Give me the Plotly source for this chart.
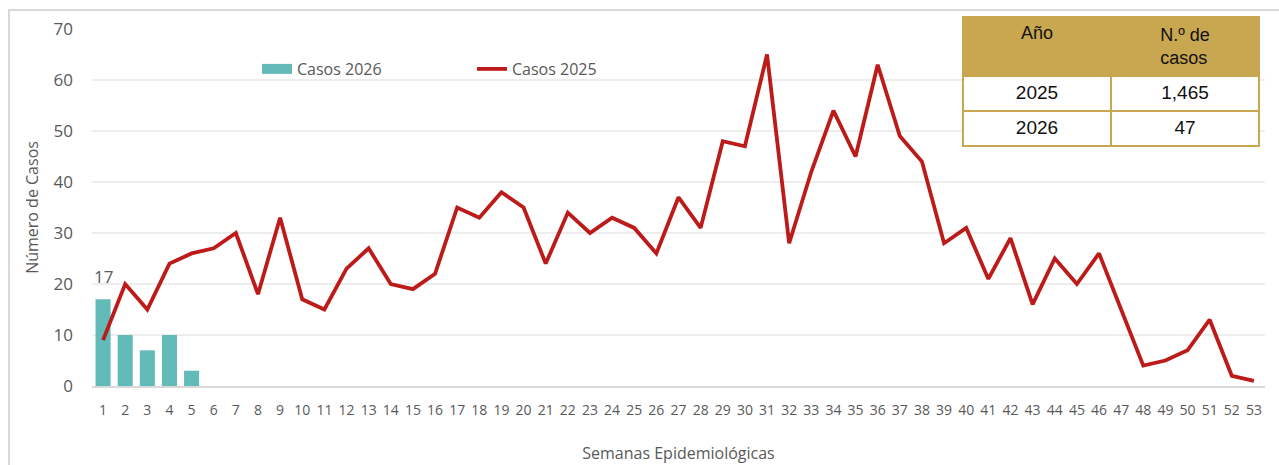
import plotly.graph_objects as go

weeks = list(range(1, 54))
casos_2025 = [9, 20, 15, 24, 26, 27, 30, 18, 33, 17, 15, 23, 27, 20, 19, 22, 35, 33, 38, 35,
              24, 34, 30, 33, 31, 26, 37, 31, 48, 47, 65, 28, 42, 54, 45, 63, 49, 44, 28, 31,
              21, 29, 16, 25, 20, 26, 15, 4, 5, 7, 13, 2, 1]
weeks_2026 = [1, 2, 3, 4, 5]
casos_2026 = [17, 10, 7, 10, 3]
tabla_anios = ["2025", "2026"]
tabla_casos = ["1,465", "47"]

W, H = 1279, 465
ml, mr, mt, mb = 92, 14, 10, 79
pw = W - ml - mr
ph = H - mt - mb
ytop = (H - mb - 29) / ph

TEAL = "#62BBB8"
RED = "#BD1A1A"
GREY = "#595959"
GOLD = "#C9A650"

fig = go.Figure()
fig.add_trace(go.Bar(
    x=weeks_2026, y=casos_2026, name="Casos 2026", showlegend=False,
    marker=dict(color=TEAL, line=dict(width=0)),
))
# legend entry for the bars (wide swatch like the original)
fig.add_trace(go.Scatter(
    x=[None], y=[None], name="Casos 2026", mode="lines",
    line=dict(color=TEAL, width=14),
))
fig.add_trace(go.Scatter(
    x=weeks, y=casos_2025, name="Casos 2025", mode="lines",
    line=dict(color=RED, width=3.8),
))
fig.add_trace(go.Table(
    domain=dict(x=[(963 - ml) / pw, (1259 - ml) / pw],
                y=[(H - mb - 160) / ph, (H - mb - 17) / ph]),
    columnwidth=[148, 148],
    header=dict(values=["Año", "N.º de<br>casos"],
                fill_color=GOLD, line=dict(color=GOLD, width=2),
                font=dict(family="Liberation Sans", size=18, color="#111111"),
                align="center", height=51),
    cells=dict(values=[tabla_anios, tabla_casos],
               fill_color="white", line=dict(color=GOLD, width=2),
               font=dict(family="Liberation Sans", size=19, color="#111111"),
               align="center", height=35),
))

fig.add_annotation(
    x=weeks_2026[0], y=casos_2026[0], text=str(casos_2026[0]),
    showarrow=False, yanchor="bottom", yshift=9,
    font=dict(family="Open Sans", size=17, color=GREY),
)

fig.update_layout(
    width=W, height=H,
    margin=dict(l=ml, r=mr, t=mt, b=mb, autoexpand=False),
    paper_bgcolor="white", plot_bgcolor="white",
    bargap=0.32,
    showlegend=True,
    legend=dict(orientation="h", x=(257 - ml) / pw, xanchor="left",
                y=(H - mb - 69) / ph, yanchor="middle",
                font=dict(family="Open Sans", size=16, color=GREY),
                entrywidth=170, bgcolor="rgba(0,0,0,0)", traceorder="normal"),
    xaxis=dict(range=[0.5, 53.5], tickmode="array", tickvals=weeks,
               ticktext=[str(w) for w in weeks], showgrid=False,
               showline=True, linecolor="#D9D9D9", linewidth=2, ticks="",
               automargin=False,
               tickfont=dict(family="Open Sans", size=14, color=GREY),
               ticklabelstandoff=10,
               title=dict(text="Semanas Epidemiológicas", standoff=30,
                          font=dict(family="Open Sans", size=16, color=GREY))),
    yaxis=dict(range=[0, 70], dtick=10, domain=[0, ytop], showgrid=True,
               gridcolor="#EDEDED", gridwidth=1.5, zeroline=False, ticks="",
               automargin=False,
               tickfont=dict(family="Open Sans", size=17, color=GREY),
               ticklabelstandoff=18,
               title=dict(text="Número de Casos", standoff=10,
                          font=dict(family="Open Sans", size=16, color=GREY))),
    shapes=[dict(type="rect", xref="paper", yref="paper",
                 x0=(9 - ml) / pw, x1=1.05,
                 y0=-0.3, y1=(H - mb - 10) / ph,
                 line=dict(color="#D9D9D9", width=2), fillcolor="rgba(0,0,0,0)",
                 layer="below")],
)

fig.write_html("out.html", config={"displayModeBar": False},
               post_script="document.body.style.margin='0px';")
